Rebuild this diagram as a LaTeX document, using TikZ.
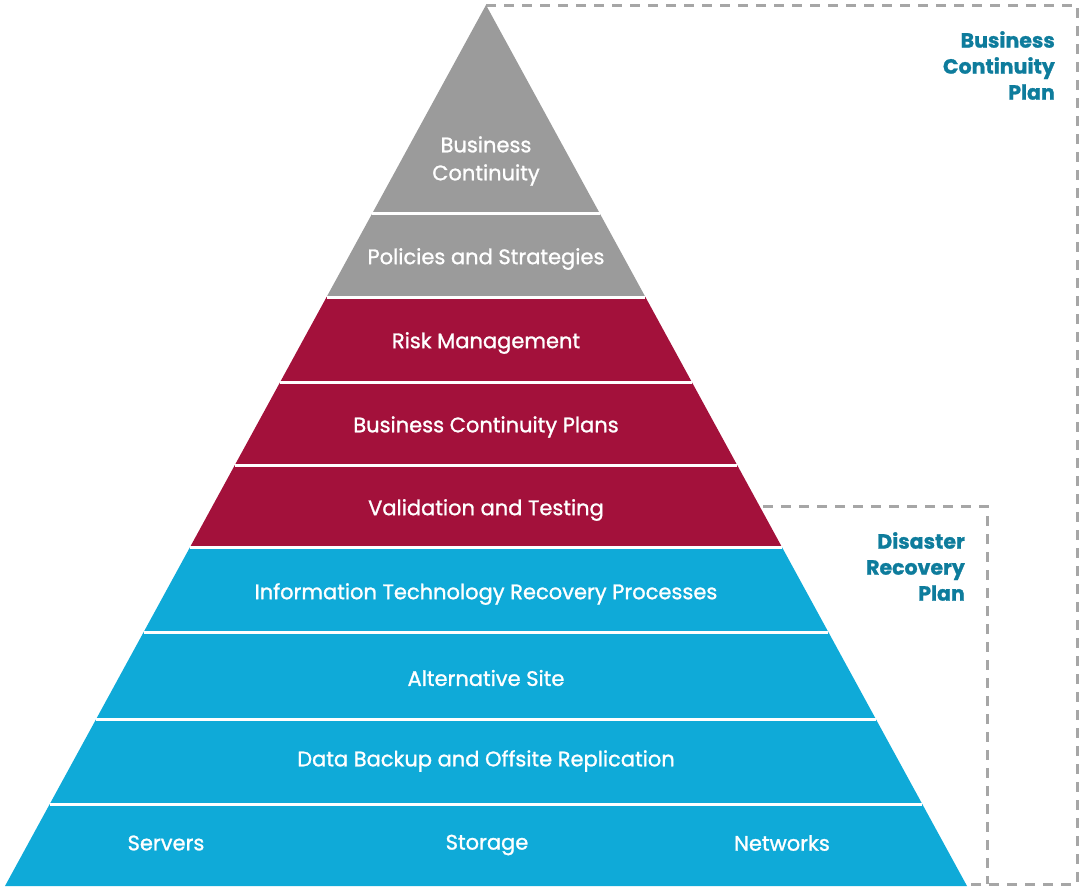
\documentclass[tikz,border=0pt]{standalone}
\usepackage{fontspec}
\setmainfont{Poppins}
\newfontfamily\labfont[FakeBold=1.2]{Poppins}
\newfontfamily\sidefont[FakeBold=1.2]{Poppins Bold}
\definecolor{pgray}{HTML}{9B9B9B}
\definecolor{pred}{HTML}{A3113B}
\definecolor{pcyan}{HTML}{0FAAD8}
\definecolor{pteal}{HTML}{0E7C9C}
\definecolor{dgray}{HTML}{A6A6A6}
\begin{document}
\begin{tikzpicture}[x=1pt,y=-1pt,
  lab/.style={text=white,font=\labfont\fontsize{21}{26}\selectfont,align=center,inner sep=0pt},
  side/.style={text=pteal,font=\sidefont\fontsize{20.5}{26}\selectfont,align=right,anchor=north east,inner sep=0pt},
  sep/.style={white,line width=3pt},
  dashbox/.style={dgray,line width=3pt,dash pattern=on 10pt off 8pt}]
\useasboundingbox (0,0) rectangle (1086,886);
% pyramid coordinates
\coordinate (apex) at (486,5);
\coordinate (l1) at (372.4,213); \coordinate (r1) at (599.6,213);
\coordinate (l2) at (326.6,297); \coordinate (r2) at (645.4,297);
\coordinate (l3) at (280.2,382); \coordinate (r3) at (691.8,382);
\coordinate (l4) at (234.9,465); \coordinate (r4) at (737.1,465);
\coordinate (l5) at (190.1,547); \coordinate (r5) at (781.9,547);
\coordinate (l6) at (143.7,632); \coordinate (r6) at (828.3,632);
\coordinate (l7) at (96.2,719);  \coordinate (r7) at (875.8,719);
\coordinate (l8) at (49.8,804);  \coordinate (r8) at (922.2,804);
\coordinate (l9) at (5,886);     \coordinate (r9) at (967,886);
% dashed boxes
\draw[dashbox] (apex) -- (1077,5) -- (1077,884) -- (967,884);
\draw[dashbox] (763,506) coordinate (d0) -- (987,506) -- (987,884);
% fills
\fill[pgray] (apex) -- (l2) -- (r2) -- cycle;
\fill[pred] (l2) -- (l5) -- (r5) -- (r2) -- cycle;
\fill[pcyan] (l5) -- (l9) -- (r9) -- (r5) -- cycle;
% separators
\foreach \i in {1,...,8} \draw[sep] (l\i) -- (r\i);
% labels
\node[lab] (t1) at (486,161) {Business\\[2pt]Continuity};
\node[lab] (t2) at (486,259) {Policies and Strategies};
\node[lab] (t3) at (486,343) {Risk Management};
\node[lab] (t4) at (486,427) {Business Continuity Plans};
\node[lab] (t5) at (486,510) {Validation and Testing};
\node[lab] (t6) at (486,594) {Information Technology Recovery Processes};
\node[lab] (t7) at (486,678) {Alternative Site};
\node[lab] (t8) at (486,761) {Data Backup and Offsite Replication};
\node[lab] (t9a) at (166,843) {Servers};
\node[lab] (t9b) at (487,845) {Storage};
\node[lab] (t9c) at (782,843) {Networks};
\node[side] (bcp) at (1055,31) {Business\\Continuity\\Plan};
\node[side] (drp) at (965,532) {Disaster\\Recovery\\Plan};
\end{tikzpicture}
\end{document}
